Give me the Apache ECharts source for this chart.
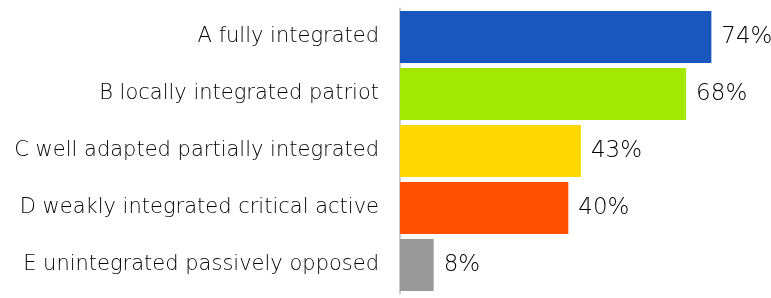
<!DOCTYPE html>
<html>
<head>
<meta charset="utf-8">
<script src="https://cdn.jsdelivr.net/npm/echarts@6/dist/echarts.min.js"></script>
<style>
  html, body { margin: 0; padding: 0; background: #fff; }
  #chart { width: 771px; height: 298px; }
</style>
</head>
<body>
<div id="chart"></div>
<script>
const categories = [
  'A fully integrated',
  'B locally integrated patriot',
  'C well adapted partially integrated',
  'D weakly integrated critical active',
  'E unintegrated passively opposed',
];
const values = [74, 68, 43, 40, 8];
const colors = ['#1957BE', '#A2E800', '#FFD900', '#FF5000', '#999999'];

const chart = echarts.init(document.getElementById('chart'));
chart.setOption({
  animation: false,
  grid: { left: 400, right: 2, top: 8.5, bottom: 4.5 },
  xAxis: {
    type: 'value',
    min: 0,
    max: 87.7,
    show: false,
  },
  yAxis: {
    type: 'category',
    inverse: true,
    data: categories,
    axisTick: { show: false },
    axisLine: { lineStyle: { color: '#cccccc', width: 2 } },
    axisLabel: {
      margin: 21,
      fontFamily: 'DejaVu Sans',
      fontSize: 21,
      fontWeight: 200,
      color: '#000',
    },
  },
  series: [{
    type: 'bar',
    barWidth: 52,
    data: values.map((v, i) => ({ value: v, itemStyle: { color: colors[i] } })),
    label: {
      show: true,
      position: 'right',
      distance: 10,
      formatter: '{c}%',
      fontFamily: 'DejaVu Sans',
      fontSize: 23,
      fontWeight: 200,
      color: '#000',
    },
  }],
});
</script>
</body>
</html>
